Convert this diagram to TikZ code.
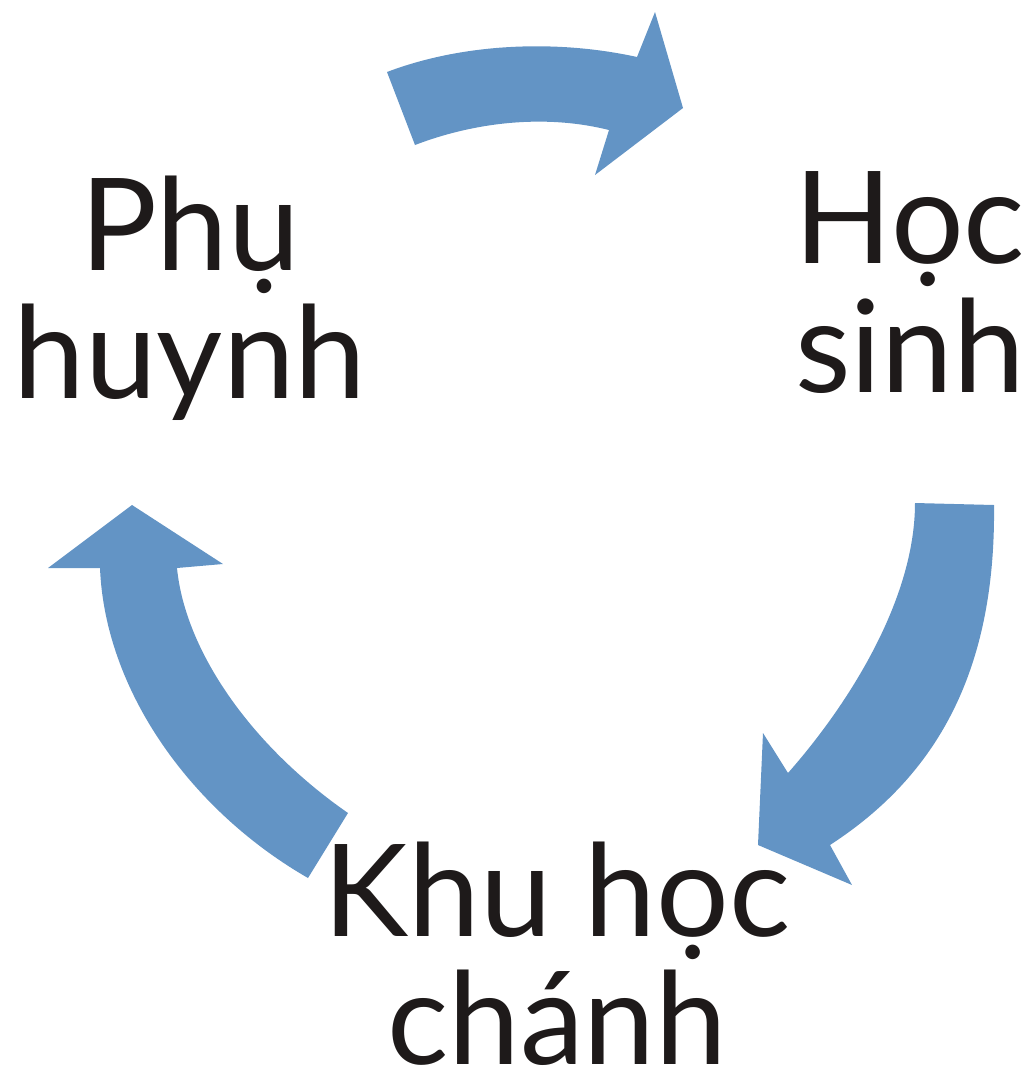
\documentclass[tikz,border=0pt]{standalone}
\usepackage{fontspec}
\setmainfont{Lato}
\usepackage{tikz}
\usetikzlibrary{calc}
\definecolor{CycleBlue}{RGB}{99,148,197}
\definecolor{LabelInk}{RGB}{30,26,26}

\begin{document}
\begin{tikzpicture}[x=0.01cm, y=-0.01cm]
			\tikzstyle{every node}=[inner sep = 0pt, align = center, anchor = north, text = LabelInk, font = \fontsize{36.5}{36.5}\selectfont];
			\tikzstyle{blockarrow}=[fill = CycleBlue, draw = none];
			\useasboundingbox (0, 0) rectangle (1026, 1072);
			% labels
			\node (parents) at (190, 175) {Phụ\\huynh};
			\node (student) at (910, 171) {Học\\sinh};
			\node (district) at (557, 841) {Khu học\\chánh};
			% parents -> student
			\fill [blockarrow] (387, 72) .. controls (466, 42) and (560, 40) .. (637, 57)
				-- (655, 12) -- (683, 108) -- (595, 175) -- (609, 130)
				.. controls (545, 114) and (475, 122) .. (415, 145) -- cycle;
			% student -> district
			\fill [blockarrow] (994, 505) .. controls (996, 680) and (930, 780) .. (830, 845)
				-- (852, 885) -- (758, 845) -- (763, 733) -- (788, 773)
				.. controls (848, 705) and (915, 600) .. (915, 503) -- cycle;
			% district -> parents
			\fill [blockarrow] (348, 813) .. controls (250, 745) and (185, 650) .. (177, 568)
				-- (223, 564) -- (132, 505) -- (48, 568) -- (100, 568)
				.. controls (105, 690) and (190, 810) .. (308, 878) -- cycle;
\end{tikzpicture}
\end{document}
